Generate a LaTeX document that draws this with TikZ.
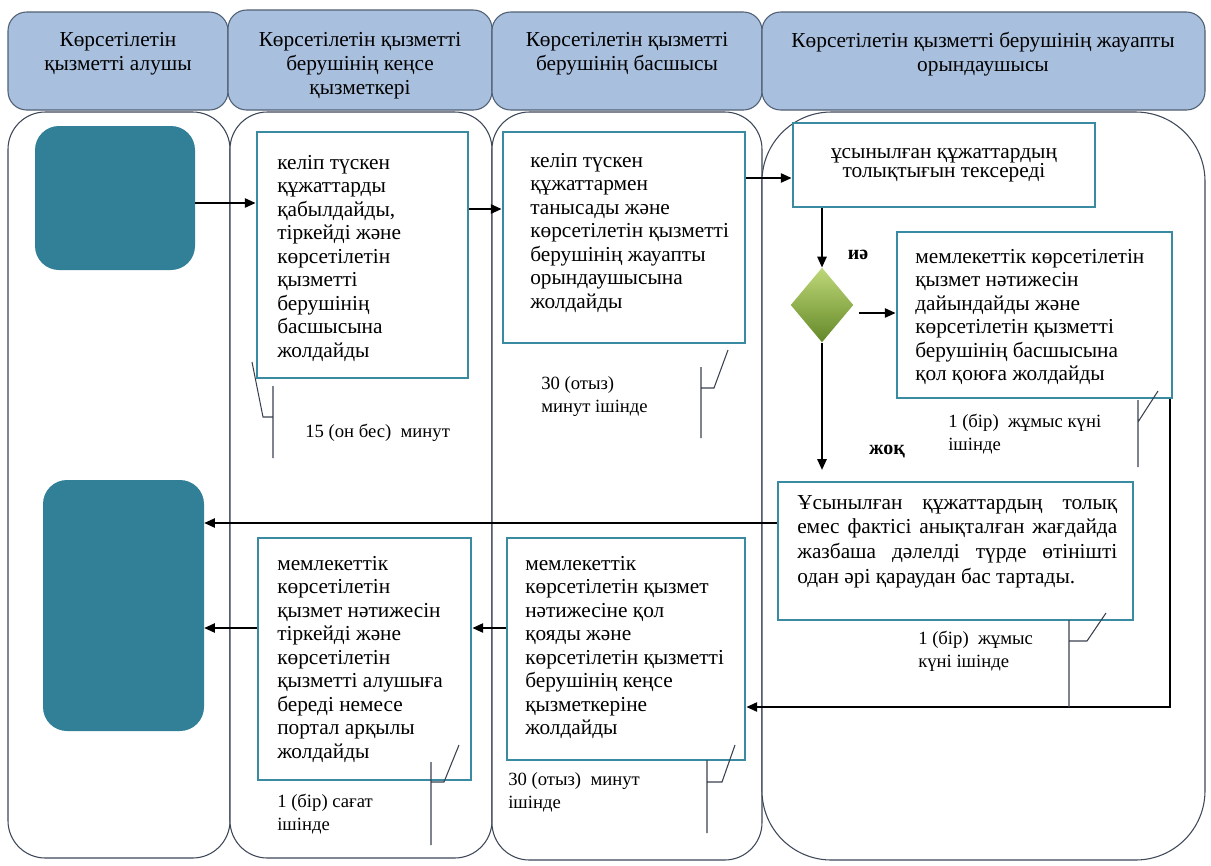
\documentclass[tikz,border=0pt]{standalone}
\usepackage{fontspec}
\setmainfont{Liberation Serif}
\usetikzlibrary{arrows.meta,shapes.geometric}
\definecolor{hdrfill}{RGB}{168,191,222}
\definecolor{hdrline}{RGB}{80,96,116}
\definecolor{laneline}{RGB}{62,72,88}
\definecolor{tealbox}{RGB}{49,128,152}
\definecolor{boxline}{RGB}{58,138,162}
\definecolor{gtop}{RGB}{190,216,120}
\definecolor{gbot}{RGB}{100,136,40}
\definecolor{callc}{RGB}{58,66,80}
\begin{document}
\begin{tikzpicture}[x=0.75pt,y=-0.75pt,
  hdr/.style={draw=hdrline,fill=hdrfill,line width=0.8pt,rounded corners=14pt},
  lane/.style={draw=laneline,fill=white,line width=0.8pt},
  hdrtext/.style={anchor=north,align=center,inner sep=0pt,font=\fontsize{16}{18}\selectfont},
  procbox/.style={draw=boxline,fill=white,line width=2.2pt,inner sep=0pt},
  term/.style={fill=tealbox,draw=none,rounded corners=18pt,inner sep=0pt},
  boxtext/.style={anchor=north west,align=left,inner sep=0pt,font=\fontsize{16}{17.6}\selectfont},
  timetext/.style={anchor=north west,align=left,inner sep=0pt,font=\fontsize{14}{17.2}\selectfont},
  declabel/.style={inner sep=0pt,font=\fontsize{15}{17}\selectfont\bfseries},
  arr/.style={-{Triangle[length=8pt,width=7pt]},line width=1.1pt,black},
  callout/.style={draw=callc,line width=0.8pt}
]
\useasboundingbox (0,0) rectangle (1211,865);
\fill[white] (0,0) rectangle (1211,865);

% lanes
\path[lane,rounded corners=28pt] (8,112) rectangle (230,858);
\path[lane,rounded corners=28pt] (230,112) rectangle (492,858);
\path[lane,rounded corners=28pt] (492,112) rectangle (762,860);
\path[lane,rounded corners=52pt] (762,112) rectangle (1205,860);

% headers
\path[hdr] (8,12) rectangle (228,110);
\path[hdr] (228,10) rectangle (492,110);
\path[hdr] (492,12) rectangle (762,110);
\path[hdr] (762,12) rectangle (1205,110);
\node[hdrtext] (h1) at (118,32) {Көрсетілетін\\қызметті алушы};
\node[hdrtext] (h2) at (360,32) {Көрсетілетін қызметті\\берушінің кеңсе\\қызметкері};
\node[hdrtext] (h3) at (627,32) {Көрсетілетін қызметті\\берушінің басшысы};
\node[hdrtext] (h4) at (983,32) {Көрсетілетін қызметті берушінің жауапты\\орындаушысы};

% terminal boxes
\node[term,minimum width=120pt,minimum height=108pt] (A) at (115,198) {};
\node[term,minimum width=120.75pt,minimum height=188.25pt] (B) at (123.5,605.5) {};

% process boxes
\node[procbox,minimum width=158.25pt,minimum height=184.5pt] (P1) at (362.5,255) {};
\node[procbox,minimum width=181.5pt,minimum height=158.25pt] (P2) at (624,237.5) {};
\node[procbox,minimum width=226.5pt,minimum height=63pt] (P3) at (944,165)
  {\begin{tabular}{@{}c@{}}\fontsize{16}{18}\selectfont ұсынылған құжаттардың\\[0pt]\fontsize{16}{18}\selectfont толықтығын тексереді\end{tabular}};
\node[procbox,minimum width=206.25pt,minimum height=124.5pt] (P4) at (1034.5,315) {};
\node[procbox,minimum width=266.25pt,minimum height=103.5pt] (P5) at (955.5,551) {};
\node[procbox,minimum width=178.5pt,minimum height=166.5pt] (P6) at (626,649) {};
\node[procbox,minimum width=159.75pt,minimum height=181.5pt] (P7) at (364.5,659) {};
\node[diamond,top color=gtop,bottom color=gbot,draw=none,inner sep=0pt,
  minimum width=47pt,minimum height=56pt] (D) at (822,305) {};

% box texts
\node[boxtext] (t1) at (277,155) {келіп түскен\\құжаттарды\\қабылдайды,\\тіркейді және\\көрсетілетін\\қызметті\\берушінің\\басшысына\\жолдайды};
\node[boxtext] (t2) at (530,153) {келіп түскен\\құжаттармен\\танысады және\\көрсетілетін қызметті\\берушінің жауапты\\орындаушысына\\жолдайды};
\node[boxtext] (t4) at (915,249) {мемлекеттік көрсетілетін\\қызмет нәтижесін\\дайындайды және\\көрсетілетін қызметті\\берушінің басшысына\\қол қоюға жолдайды};
\node[boxtext,font=\fontsize{16}{18.5}\selectfont] (t5) at (797,495) {\makebox[240pt][s]{Ұсынылған құжаттардың толық}\\\makebox[240pt][s]{емес фактісі анықталған жағдайда}\\\makebox[240pt][s]{жазбаша дәлелді түрде өтінішті}\\одан әрі қараудан бас тартады.};
\node[boxtext] (t6) at (525,556) {мемлекеттік\\көрсетілетін қызмет\\нәтижесіне қол\\қояды және\\көрсетілетін қызметті\\берушінің кеңсе\\қызметкеріне\\жолдайды};
\node[boxtext] (t7) at (277,556) {мемлекеттік\\көрсетілетін\\қызмет нәтижесін\\тіркейді және\\көрсетілетін\\қызметті алушыға\\береді немесе\\портал арқылы\\жолдайды};

% decision labels
\node[declabel] (yes) at (858,255) {иә};
\node[declabel] (no) at (887,452) {жоқ};

% time labels
\node[timetext] (m1) at (305,424) {15 (он бес)\ \ минут};
\node[timetext] (m2) at (541,376) {30 (отыз)\\минут ішінде};
\node[timetext] (m4) at (948,414) {1 (бір)\ \ жұмыс күні\\ішінде};
\node[timetext] (m5) at (918,631) {1 (бір)\ \ жұмыс\\күні ішінде};
\node[timetext] (m6) at (508,772) {30 (отыз)\ \ минут\\ішінде};
\node[timetext] (m7) at (277,794) {1 (бір) сағат\\ішінде};

% helper coordinates
\coordinate (y203) at (0,203);
\coordinate (y209) at (0,209);
\coordinate (y178) at (0,178);
\coordinate (y313) at (0,313);
\coordinate (y523) at (0,523);
\coordinate (y628) at (0,628);
\coordinate (y707) at (0,707);
\coordinate (x1170) at (1170,0);

% connectors
\draw[arr] (A.east |- y203) -- (P1.west |- y203);
\draw[arr] (P1.east |- y209) -- (P2.west |- y209);
\draw[arr] (P2.east |- y178) -- (P3.west |- y178);
\draw[arr] (D.north |- P3.south) -- (D.north);
\draw[arr] ([xshift=4pt]D.east |- y313) -- (P4.west |- y313);
\draw[arr,shorten >=8pt] (D.south) -- (D.south |- P5.north);
\draw[arr] (P5.west |- y523) -- (B.east |- y523);
\draw[arr] (x1170 |- P4.south) -- (x1170 |- y707) -- (P6.east |- y707);
\draw[arr] (P6.west |- y628) -- (P7.east |- y628);
\draw[arr] (P7.west |- y628) -- (B.east |- y628);

% callouts
\draw[callout] (273,386) -- (273,458) (273,417) -- (263,417) -- (252,362);
\draw[callout] (701,367) -- (701,438) (701,388) -- (714,388) -- (728,350);
\draw[callout] (1138,400) -- (1138,467) (1138,422) -- (1158,391);
\draw[callout] (1069,620) -- (1069,707) (1069,641) -- (1087,641) -- (1106,613);
\draw[callout] (431,762) -- (431,845) (431,782) -- (444,782) -- (459,745);
\draw[callout] (707,760) -- (707,833) (707,782) -- (722,782) -- (735,745);
\end{tikzpicture}
\end{document}
